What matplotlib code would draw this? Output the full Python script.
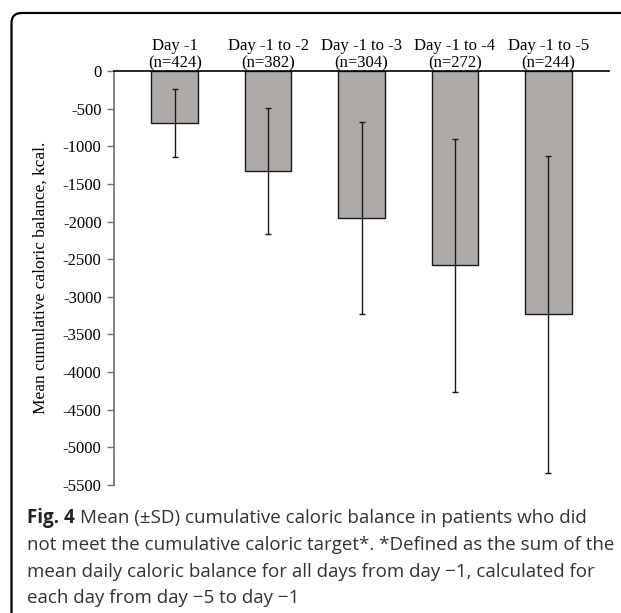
import matplotlib
matplotlib.use("Agg")
import matplotlib.pyplot as plt
import numpy as np
from matplotlib.patches import FancyBboxPatch
from matplotlib.transforms import IdentityTransform

categories = ["Day -1\n(n=424)", "Day -1 to -2\n(n=382)", "Day -1 to -3\n(n=304)",
              "Day -1 to -4\n(n=272)", "Day -1 to -5\n(n=244)"]
means = [-692, -1322, -1957, -2583, -3234]
sds = [456, 837, 1277, 1683, 2106]
yticks = list(range(0, -5501, -500))

plt.rcParams['axes.unicode_minus'] = False
W, H = 621, 613
fig = plt.figure(figsize=(W / 100, H / 100), dpi=100)
ax = fig.add_axes([114 / W, 1 - 485 / H, (609 - 114) / W, (485 - 71) / H])

x = np.arange(len(categories))
ax.bar(x, means, width=0.5, color='#aeaaa8', edgecolor='#1a1a1a', linewidth=1.0, zorder=2)
ax.errorbar(x, means, yerr=sds, fmt='none', ecolor='#1a1a1a', elinewidth=1.0,
            capsize=2.2, capthick=1.0, zorder=3)

ax.set_xlim(-0.65, 4.65)
ax.set_ylim(-5500, 0)
ax.set_yticks(yticks)
ax.set_yticklabels([str(v) for v in yticks], family='Liberation Serif', fontsize=12)
ax.xaxis.tick_top()
ax.set_xticks(x)
ax.set_xticklabels(categories, family='Liberation Serif', fontsize=12, linespacing=1.1)
ax.tick_params(axis='x', length=0, pad=0)
ax.tick_params(axis='y', direction='out', length=5, width=1, color='#707070', pad=4)
for s in ['bottom', 'right']:
    ax.spines[s].set_visible(False)
ax.spines['top'].set_color('black')
ax.spines['top'].set_linewidth(1.2)
ax.spines['left'].set_color('#707070')
ax.spines['left'].set_linewidth(1.2)
ax.set_ylabel("Mean cumulative caloric balance, kcal.", family='Liberation Serif',
              fontsize=12.5, labelpad=10)

# Frame
frame = FancyBboxPatch((11.5, -100), 800, H - 13 + 100, boxstyle="round,pad=0,rounding_size=10",
                       transform=IdentityTransform(), fill=False, edgecolor='black',
                       linewidth=1.6)
fig.patches.append(frame)

# Caption
cap_font = dict(family='Open Sans', fontsize=13.5)
renderer = fig.canvas.get_renderer()
t1 = fig.text(27 / W, 1 - 518 / H, "Fig. 4", fontweight='bold', va='center', ha='left',
              color='#222222', **cap_font)
bb = t1.get_window_extent(renderer)
fig.text((bb.x1 + 5) / W, 1 - 518 / H, "Mean (\u00b1SD) cumulative caloric balance in patients who did",
         va='center', ha='left', color='#333333', **cap_font)
lines = ["not meet the cumulative caloric target*. *Defined as the sum of the",
         "mean daily caloric balance for all days from day \u22121, calculated for",
         "each day from day \u22125 to day \u22121"]
for i, ln in enumerate(lines):
    fig.text(27 / W, 1 - (545 + i * 26.7) / H, ln, va='center', ha='left', color='#333333', **cap_font)

fig.savefig("out.png", dpi=100)
